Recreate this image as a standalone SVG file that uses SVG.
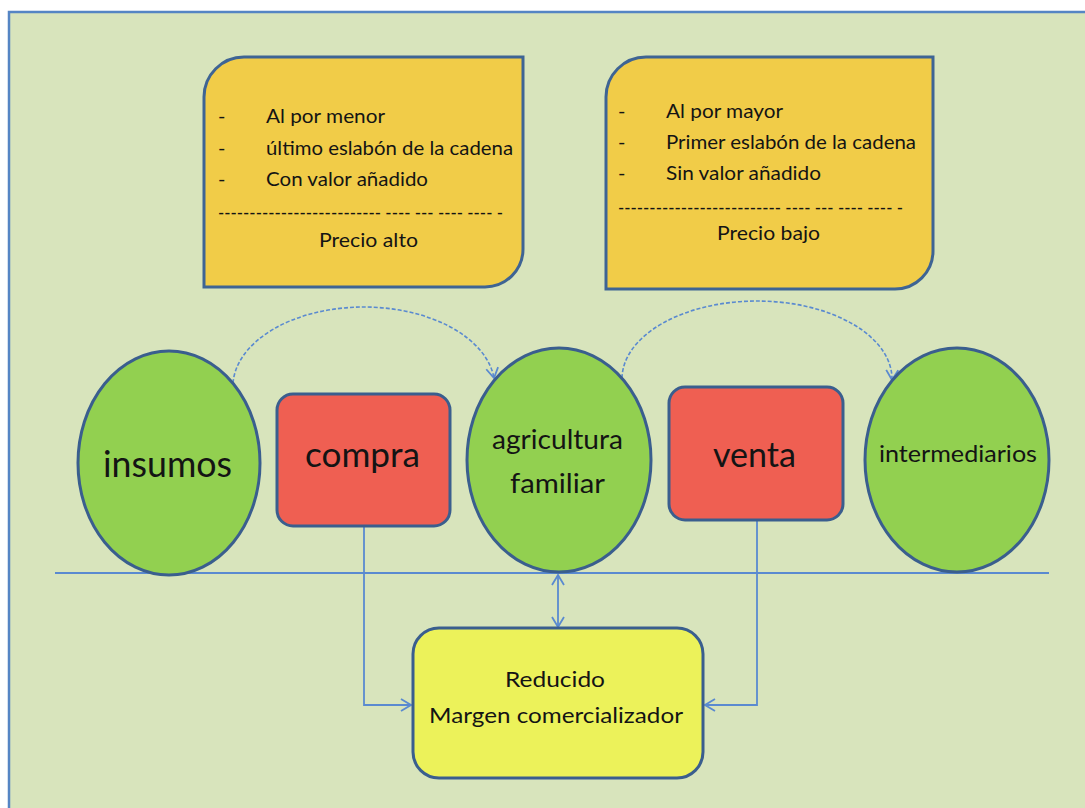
<svg xmlns="http://www.w3.org/2000/svg" width="1085" height="808" viewBox="0 0 1085 808">
<style>
.t{font-family:Lato,"Open Sans","Liberation Sans",sans-serif;fill:#141414}
.bx{font-size:20px}
.yel{fill:#F1CC48;stroke:#3E6494;stroke-width:3}
.circ{fill:#92D050;stroke:#3A5E8E;stroke-width:3}
.red{fill:#EF5F52;stroke:#3A5E8E;stroke-width:3}
.con{fill:none;stroke:#5A8AD0;stroke-width:1.8}
.dash{fill:none;stroke:#5A8AD0;stroke-width:1.6;stroke-dasharray:4 2}
</style>
<defs>
<marker id="arr" viewBox="0 0 12 14" refX="11" refY="7" markerWidth="12" markerHeight="14" markerUnits="userSpaceOnUse" orient="auto-start-reverse">
<path d="M1,1 L11,7 L1,13" fill="none" stroke="#5A8AD0" stroke-width="1.8"/>
</marker>
</defs>
<rect x="0" y="0" width="1085" height="808" fill="#FFFFFF"/>
<rect x="9" y="12" width="1090" height="810" fill="#D8E4BC" stroke="#5585C4" stroke-width="2.5"/>

<g id="box-alto">
<path class="yel" d="M244,57 H523 V249 A38,38 0 0 1 485,287 H204 V97 A40,40 0 0 1 244,57 Z"/>
<text class="t bx" x="218" y="123">-</text>
<text class="t bx" x="266" y="123" textLength="119" lengthAdjust="spacingAndGlyphs">Al por menor</text>
<text class="t bx" x="218" y="155">-</text>
<text class="t bx" x="266" y="155" textLength="247" lengthAdjust="spacingAndGlyphs">último eslabón de la cadena</text>
<text class="t bx" x="218" y="186">-</text>
<text class="t bx" x="266" y="186" textLength="162" lengthAdjust="spacingAndGlyphs">Con valor añadido</text>
<text class="t bx" x="218" y="219" textLength="285" lengthAdjust="spacingAndGlyphs">-------------------------- ---- --- ---- ---- -</text>
<text class="t bx" x="319" y="247" textLength="99" lengthAdjust="spacingAndGlyphs">Precio alto</text>
</g>

<g id="box-bajo">
<path class="yel" d="M646,57 H933 V251 A38,38 0 0 1 895,289 H606 V97 A40,40 0 0 1 646,57 Z"/>
<text class="t bx" x="618" y="118">-</text>
<text class="t bx" x="666" y="118" textLength="117" lengthAdjust="spacingAndGlyphs">Al por mayor</text>
<text class="t bx" x="618" y="149">-</text>
<text class="t bx" x="666" y="149" textLength="250" lengthAdjust="spacingAndGlyphs">Primer eslabón de la cadena</text>
<text class="t bx" x="618" y="180">-</text>
<text class="t bx" x="666" y="180" textLength="155" lengthAdjust="spacingAndGlyphs">Sin valor añadido</text>
<text class="t bx" x="618" y="214" textLength="285" lengthAdjust="spacingAndGlyphs">-------------------------- ---- --- ---- ---- -</text>
<text class="t bx" x="717" y="240" textLength="103" lengthAdjust="spacingAndGlyphs">Precio bajo</text>
</g>

<g id="connectors">
<path class="con" d="M55,573 H1049"/>
<path class="dash" d="M233,383 A131,80 0 0 1 494,378" marker-end="url(#arr)"/>
<path class="dash" d="M622,378 A135,78 0 0 1 892,380" marker-end="url(#arr)"/>
<path class="con" d="M364,526 V705 H411" marker-end="url(#arr)"/>
<path class="con" d="M757,520 V705 H705" marker-end="url(#arr)"/>
<path class="con" d="M558,575 V627" marker-start="url(#arr)" marker-end="url(#arr)"/>
</g>

<g id="insumos">
<ellipse class="circ" cx="169" cy="463" rx="91" ry="112"/>
<text class="t" x="103" y="477" font-size="36" textLength="129" lengthAdjust="spacingAndGlyphs">insumos</text>
</g>

<g id="compra">
<rect class="red" x="277" y="394" width="173" height="132" rx="16"/>
<text class="t" x="305" y="467" font-size="35" textLength="115" lengthAdjust="spacingAndGlyphs">compra</text>
</g>

<g id="agricultura">
<ellipse class="circ" cx="559" cy="460" rx="92" ry="112"/>
<text class="t" x="492" y="449" font-size="27" textLength="131" lengthAdjust="spacingAndGlyphs">agricultura</text>
<text class="t" x="510" y="493" font-size="27" textLength="95" lengthAdjust="spacingAndGlyphs">familiar</text>
</g>

<g id="venta">
<rect class="red" x="669" y="387" width="174" height="133" rx="16"/>
<text class="t" x="713" y="467" font-size="35" textLength="83" lengthAdjust="spacingAndGlyphs">venta</text>
</g>

<g id="intermediarios">
<ellipse class="circ" cx="957" cy="460" rx="92" ry="112"/>
<text class="t" x="879" y="462" font-size="23" textLength="158" lengthAdjust="spacingAndGlyphs">intermediarios</text>
</g>

<g id="margen">
<rect x="413" y="628" width="290" height="150" rx="26" fill="#ECF25A" stroke="#3A5E8E" stroke-width="3"/>
<text class="t" x="505" y="687" font-size="22" textLength="100" lengthAdjust="spacingAndGlyphs">Reducido</text>
<text class="t" x="429" y="723" font-size="22" textLength="254" lengthAdjust="spacingAndGlyphs">Margen comercializador</text>
</g>
</svg>
